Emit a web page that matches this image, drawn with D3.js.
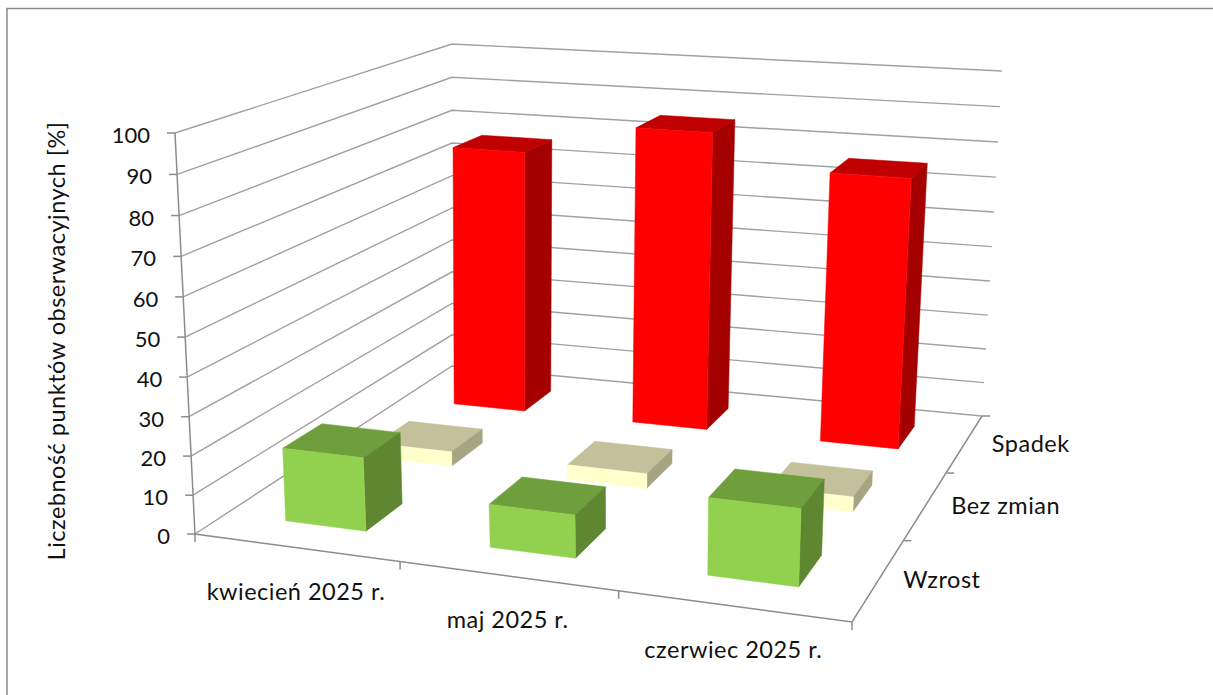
<!DOCTYPE html>
<html>
<head>
<meta charset="utf-8">
<style>
  html, body { margin: 0; padding: 0; background: #fff; overflow: hidden; }
  text { font-family: Lato, "Open Sans", sans-serif; fill: #111; }
</style>
<script src="https://cdn.jsdelivr.net/npm/d3@7/dist/d3.min.js"></script>
</head>
<body>
<div id="chart"></div>
<script>
// dane
const months = ['kwiecień 2025 r.', 'maj 2025 r.', 'czerwiec 2025 r.'];
const seriesNames = ['Wzrost', 'Bez zmian', 'Spadek'];
const wzrost = [19, 11, 19.5];
const bezZmian = [4, 4, 4];
const spadek = [76, 85, 76];
const valueTicks = [0, 10, 20, 30, 40, 50, 60, 70, 80, 90, 100];
const yTitle = 'Liczebność punktów obserwacyjnych [%]';

const seriesValues = [wzrost, bezZmian, spadek];
const seriesColors = [
    {front: '#92d050', top: '#6f9e3c', side: '#5f8732'},
    {front: '#ffffcc', top: '#c2c19b', side: '#a5a582'},
    {front: '#ff0000', top: '#c00000', side: '#a50000'}
];

const dimensions = {width: 1213, height: 695};

// rogi prostopadłościanu wykresu na ekranie (front-lewy, front-prawy, tył-prawy, tył-lewy)
const floorQuad = [[195, 534], [852, 622], [982, 416], [452, 366]];
const topQuad = [[175, 133], [870, 197], [1002, 71], [452, 44]];
const heightPerspective = 1.037;
// korekta rozkładu wzdłuż osi miesięcy (podłoga, góra)
const floorWarp = 0.03;
const topWarp = 0.1;

// odwzorowanie kwadratu jednostkowego na czworokąt
const quadMapper = (q) => {
    const [[x0, y0], [x1, y1], [x2, y2], [x3, y3]] = q;
    const dx1 = x1 - x2, dx2 = x3 - x2, sx = x0 - x1 + x2 - x3;
    const dy1 = y1 - y2, dy2 = y3 - y2, sy = y0 - y1 + y2 - y3;
    const den = dx1 * dy2 - dx2 * dy1;
    const g = (sx * dy2 - dx2 * sy) / den;
    const h = (dx1 * sy - sx * dy1) / den;
    const a = x1 - x0 + g * x1, b = x3 - x0 + h * x3, c = x0;
    const d = y1 - y0 + g * y1, e = y3 - y0 + h * y3, f = y0;
    return (u, v) => {
        const w = g * u + h * v + 1;
        return [(a * u + b * v + c) / w, (d * u + e * v + f) / w];
    };
};
const floorMap = quadMapper(floorQuad);
const topMap = quadMapper(topQuad);

const yScale = d3.scaleLinear().domain([0, 100]).range([0, 1]);
const xScale = d3.scaleBand().domain(months).range([0, 1]).paddingInner(0.6).paddingOuter(0.3);
const zScale = d3.scaleBand().domain(seriesNames).range([0, 1]).paddingInner(0.6).paddingOuter(0.3);
const xStep = d3.scaleBand().domain(months).range([0, 1]);
const zStep = d3.scaleBand().domain(seriesNames).range([0, 1]);

// punkt 3D (u wzdłuż miesięcy, v w głąb, value na osi pionowej) na ekran
const project = (u, v, value) => {
    const t = yScale(value);
    const s = t / (t + (1 - t) * heightPerspective);
    const a = floorMap(u + floorWarp * u * (1 - u), v);
    const b = topMap(u + topWarp * u * (1 - u), v);
    return [a[0] + (b[0] - a[0]) * s, a[1] + (b[1] - a[1]) * s];
};

const svg = d3.select('#chart')
    .append('svg')
    .attr('width', dimensions.width)
    .attr('height', dimensions.height)
    .style('display', 'block');

// ramka
svg.append('rect')
    .attr('x', 7).attr('y', 8.5)
    .attr('width', 1400).attr('height', 900)
    .attr('fill', '#fff')
    .attr('stroke', '#8a8a8a')
    .attr('stroke-width', 1.5);

const line = d3.line();

// siatka na ścianach
svg.append('g').selectAll('path')
    .data(valueTicks)
    .join('path')
    .attr('d', d => line([project(0, 0, d), project(0, 1, d), project(1, 1, d)]))
    .attr('fill', 'none')
    .attr('stroke', '#a0a0a0')
    .attr('stroke-width', 1.4);

// osie
const axisGroup = svg.append('g')
    .attr('fill', 'none')
    .attr('stroke', '#8c8c8c')
    .attr('stroke-width', 1.5);
axisGroup.append('path').attr('d', line([project(0, 0, 100), project(0, 0, 0), project(1, 0, 0), project(1, 1, 0)]));

const tickLen = 8;
// znaczniki osi wartości
valueTicks.forEach(d => {
    const p = project(0, 0, d);
    axisGroup.append('path').attr('d', line([[p[0] - tickLen, p[1]], p]));
});
// znaczniki osi miesięcy
[0, ...months.map(m => xStep(m) + xStep.bandwidth())].forEach(u => {
    const p = project(u, 0, 0);
    axisGroup.append('path').attr('d', line([p, [p[0], p[1] + tickLen]]));
});
// znaczniki osi głębokości
[...seriesNames.map(s => zStep(s) + zStep.bandwidth())].forEach(v => {
    const p = project(1, v, 0);
    axisGroup.append('path').attr('d', line([p, [p[0] + tickLen, p[1]]]));
});

// słupki, od tylnego rzędu do przedniego
const bars = [];
seriesNames.forEach((name, si) => {
    months.forEach((month, mi) => {
        bars.push({name, month, si, value: seriesValues[si][mi]});
    });
});
bars.sort((a, b) => d3.descending(a.si, b.si));

const barGroup = svg.append('g');
bars.forEach(bar => {
    const u0 = xScale(bar.month), u1 = u0 + xScale.bandwidth();
    const v0 = zScale(bar.name), v1 = v0 + zScale.bandwidth();
    const colors = seriesColors[bar.si];
    const faces = [
        {fill: colors.top, pts: [project(u0, v0, bar.value), project(u1, v0, bar.value), project(u1, v1, bar.value), project(u0, v1, bar.value)]},
        {fill: colors.side, pts: [project(u1, v0, 0), project(u1, v1, 0), project(u1, v1, bar.value), project(u1, v0, bar.value)]},
        {fill: colors.front, pts: [project(u0, v0, 0), project(u1, v0, 0), project(u1, v0, bar.value), project(u0, v0, bar.value)]}
    ];
    faces.forEach(face => {
        barGroup.append('path')
            .attr('d', line(face.pts) + 'Z')
            .attr('fill', face.fill)
            .attr('stroke', face.fill)
            .attr('stroke-width', 0.5);
    });
});

// opisy osi
const fontSize = 23.5;
const spacing = '0.5px';
const seriesLabelDx = [63, 80, 66];

svg.append('g').selectAll('text')
    .data(valueTicks)
    .join('text')
    .attr('x', d => project(0, 0, d)[0] - 25)
    .attr('y', d => project(0, 0, d)[1] + 10)
    .attr('text-anchor', 'end')
    .style('font-size', '22px')
    .text(d => d);

svg.append('g').selectAll('text')
    .data(months)
    .join('text')
    .attr('x', d => project(xStep(d) + xStep.bandwidth() / 2, 0, 0)[0])
    .attr('y', d => project(xStep(d) + xStep.bandwidth() / 2, 0, 0)[1] + 52)
    .attr('text-anchor', 'middle')
    .style('font-size', `${fontSize}px`)
    .style('letter-spacing', spacing)
    .text(d => d);

svg.append('g').selectAll('text')
    .data(seriesNames)
    .join('text')
    .attr('x', (d, i) => project(1, zStep(d) + zStep.bandwidth() / 2, 0)[0] + seriesLabelDx[i])
    .attr('y', d => project(1, zStep(d) + zStep.bandwidth() / 2, 0)[1] + 9)
    .attr('text-anchor', 'middle')
    .style('font-size', `${fontSize}px`)
    .style('letter-spacing', spacing)
    .text(d => d);

svg.append('text')
    .attr('transform', 'translate(65,341) rotate(-90)')
    .attr('text-anchor', 'middle')
    .style('font-size', `${fontSize}px`)
    .style('letter-spacing', spacing)
    .text(yTitle);
</script>
</body>
</html>
